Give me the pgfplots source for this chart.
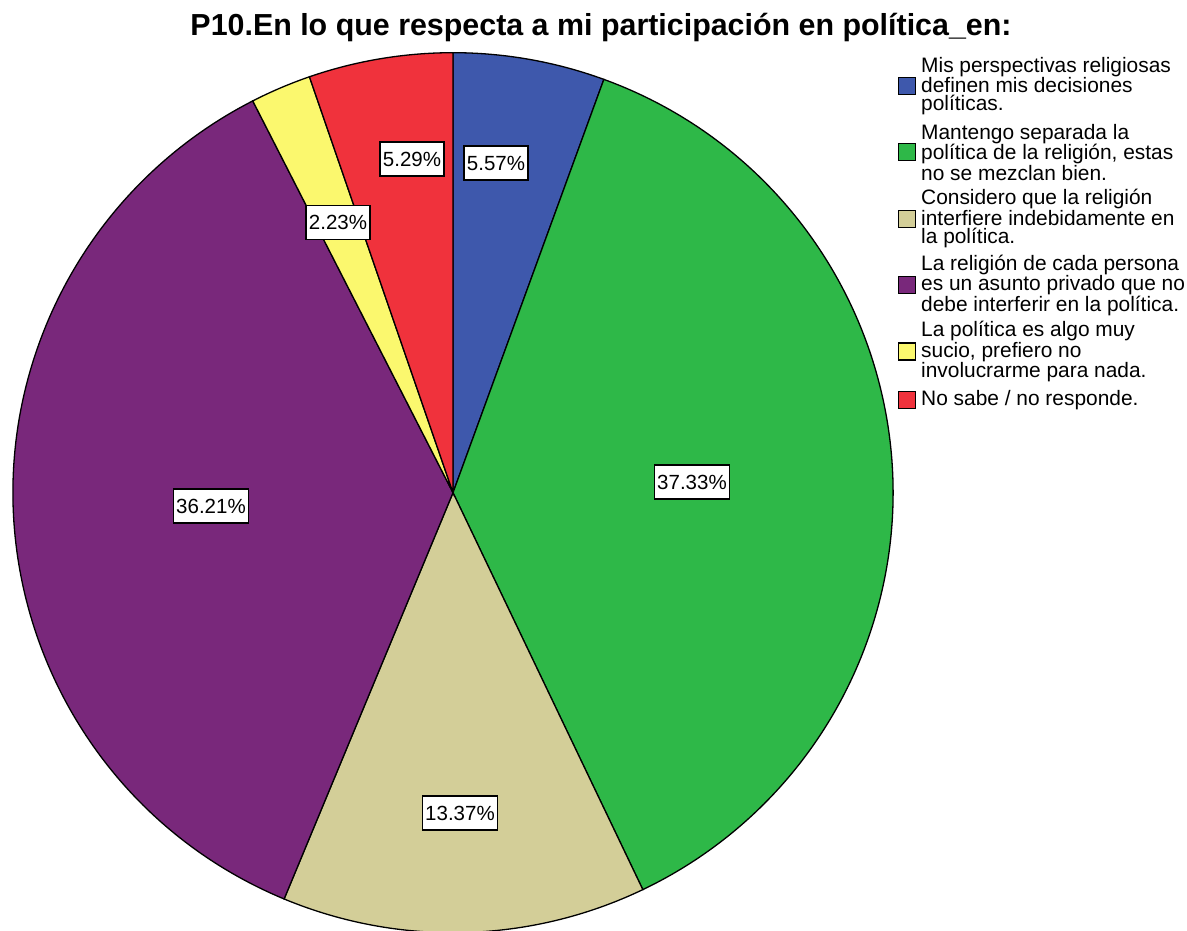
\documentclass[border=0pt]{standalone}
\usepackage{pgfplots}
\pgfplotsset{compat=1.18}
\usepackage{pgfplotstable}
\usepackage{fontspec}
\setmainfont{Liberation Sans}

\definecolor{cBlue}{RGB}{62,88,172}
\definecolor{cGreen}{RGB}{46,184,72}
\definecolor{cTan}{RGB}{211,206,152}
\definecolor{cPurple}{RGB}{121,40,123}
\definecolor{cYellow}{RGB}{251,248,110}
\definecolor{cRed}{RGB}{240,50,60}

\tikzset{
  pctlab/.style={draw=black, line width=1.2pt, fill=white,
    font=\fontsize{20.5}{22}\selectfont, inner xsep=3pt, inner ysep=0pt,
    minimum height=34pt},
  legtxt/.style={anchor=west, align=left,
    font=\fontsize{20.9}{18.2}\selectfont, inner sep=0pt},
  legbox/.style={draw=black, line width=1.2pt, minimum width=17pt,
    minimum height=17pt, inner sep=0pt},
}

% share (%), fill colour, label centre (px from left, px from top)
\pgfplotstableread{
pct    colour   lx   ly
5.57   cBlue    496  163
37.33  cGreen   692  482
13.37  cTan     460  813
36.21  cPurple  211  506
2.23   cYellow  338  222.5
5.29   cRed     412  159
}\piedata

\begin{document}
\begin{tikzpicture}
\path[use as bounding box] (0,0) rectangle (1187pt,930pt);
\begin{axis}[
    width=1187pt, height=930pt, scale only axis,
    xmin=0, xmax=1187, ymin=0, ymax=930,
    hide axis, clip=false,
  ]
  %% --- slices, clockwise from 12 o'clock ---
  \def\angstart{90}
  \pgfplotstablegetrowsof{\piedata}
  \pgfmathtruncatemacro\nrows{\pgfplotsretval-1}
  \pgfplotsforeachungrouped \i in {0,...,\nrows}{%
    \pgfplotstablegetelem{\i}{pct}\of\piedata \let\pct\pgfplotsretval
    \pgfplotstablegetelem{\i}{colour}\of\piedata \let\col\pgfplotsretval
    \pgfmathsetmacro\angend{\angstart-3.6*\pct}
    \edef\slice{\noexpand\filldraw[fill=\col, draw=black, line width=1.3pt]
      (axis cs:453,437.3) -- ++(\angstart:440pt)
      arc[start angle=\angstart, end angle=\angend, radius=440pt] -- cycle;}
    \slice
    \let\angstart\angend
  }
  %% --- percentage labels ---
  \pgfplotsforeachungrouped \i in {0,...,\nrows}{%
    \pgfplotstablegetelem{\i}{pct}\of\piedata \let\pct\pgfplotsretval
    \pgfplotstablegetelem{\i}{lx}\of\piedata \let\lx\pgfplotsretval
    \pgfplotstablegetelem{\i}{ly}\of\piedata \let\ly\pgfplotsretval
    \pgfmathsetmacro\yy{930-\ly}
    \edef\lab{\noexpand\node[pctlab] at (axis cs:\lx,\yy) {\pct\noexpand\%};}
    \lab
  }
  %% --- title ---
  \node[anchor=base, font=\bfseries\fontsize{30.4}{36}\selectfont]
    at (axis cs:601,894) {P10.En lo que respecta a mi participación en política\_en:};
  %% --- legend ---
  \node[legbox, fill=cBlue]   at (axis cs:907,844) {};
  \node[legtxt] at (axis cs:921,844) {Mis perspectivas religiosas\\definen mis decisiones\\políticas.};
  \node[legbox, fill=cGreen]  at (axis cs:907,777.6) {};
  \node[legtxt] at (axis cs:921,777.6) {Mantengo separada la\\política de la religión, estas\\no se mezclan bien.};
  \node[legbox, fill=cTan]    at (axis cs:907,711.2) {};
  \node[legtxt] at (axis cs:921,711.2) {Considero que la religión\\interfiere indebidamente en\\la política.};
  \node[legbox, fill=cPurple] at (axis cs:907,644.8) {};
  \node[legtxt] at (axis cs:921,644.8) {La religión de cada persona\\es un asunto privado que no\\debe interferir en la política.};
  \node[legbox, fill=cYellow] at (axis cs:907,578.4) {};
  \node[legtxt] at (axis cs:921,578.4) {La política es algo muy\\sucio, prefiero no\\involucrarme para nada.};
  \node[legbox, fill=cRed]    at (axis cs:907,530) {};
  \node[legtxt] at (axis cs:921,530) {No sabe / no responde.};
\end{axis}
\end{tikzpicture}
\end{document}
